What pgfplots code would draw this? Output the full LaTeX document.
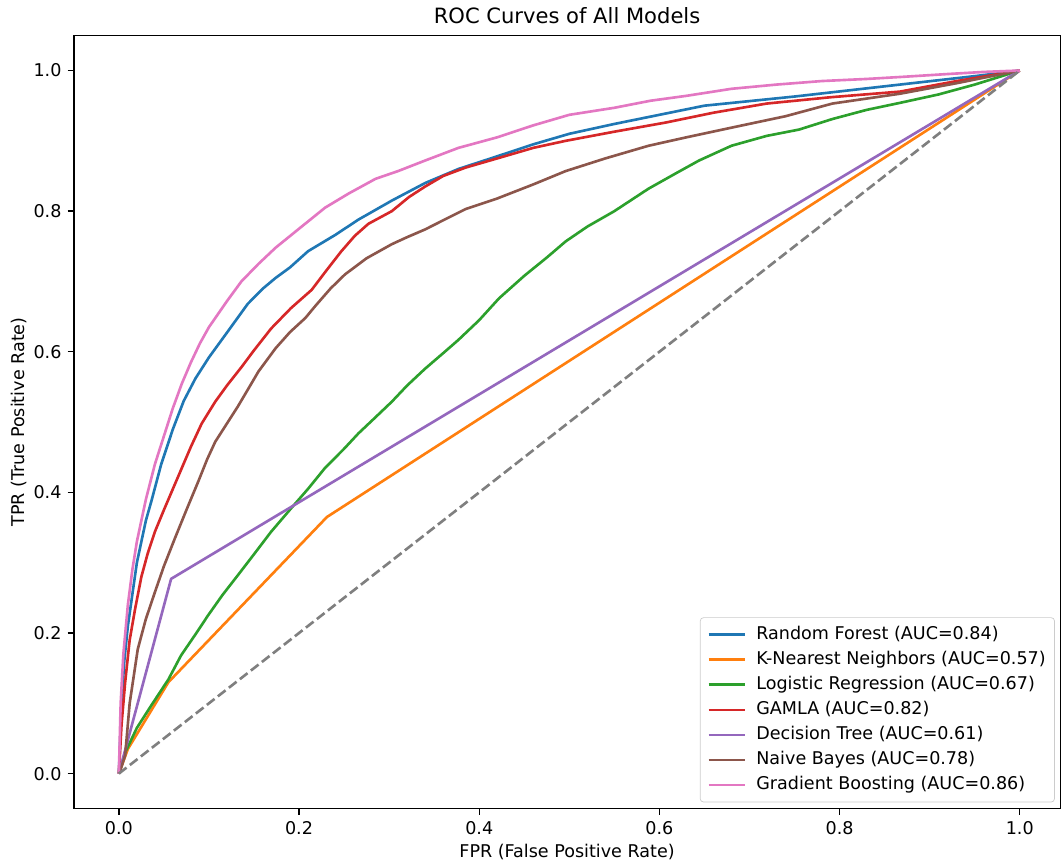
\documentclass[border={3pt 0.5pt 0pt 1pt}]{standalone}
\usepackage{fontspec}
\setmainfont{DejaVu Sans}
\usepackage{pgfplots}
\pgfplotsset{compat=1.18}
\definecolor{c0}{HTML}{1F77B4}
\definecolor{c1}{HTML}{FF7F0E}
\definecolor{c2}{HTML}{2CA02C}
\definecolor{c3}{HTML}{D62728}
\definecolor{c4}{HTML}{9467BD}
\definecolor{c5}{HTML}{8C564B}
\definecolor{c6}{HTML}{E377C2}
\definecolor{c7}{HTML}{7F7F7F}
\begin{document}
\begin{tikzpicture}
\begin{axis}[
  scale only axis,
  width=562pt, height=440.6pt,
  xmin=-0.05, xmax=1.045, ymin=-0.05, ymax=1.05,
  xtick={0,0.2,0.4,0.6,0.8,1.0},
  ytick={0,0.2,0.4,0.6,0.8,1.0},
  /pgf/number format/.cd, fixed, fixed zerofill, precision=1, assume math mode=true,
  /pgfplots/.cd,
  tick align=outside, tick pos=left,
  major tick length=3.5pt,
  every tick/.style={black, line width=0.8pt},
  axis line style={line width=0.8pt},
  tick label style={font=\fontsize{10}{12}\selectfont},
  label style={font=\fontsize{10}{12}\selectfont},
  title style={font=\fontsize{12}{14}\selectfont, yshift=-3pt},
  title={ROC Curves of All Models},
  xlabel={FPR (False Positive Rate)},
  ylabel={TPR (True Positive Rate)},
  xlabel style={yshift=1.5pt},
  ylabel style={yshift=-3pt},
  legend cell align=left,
  legend style={at={(axis cs:1.039,-0.041)}, anchor=south east,
    draw=black!20, rounded corners=2pt, fill=white, fill opacity=0.8, text opacity=1,
    font=\fontsize{10}{12}\selectfont, row sep=3pt, column sep=5pt, inner xsep=4pt, inner ysep=4pt,
    nodes={inner sep=1pt, text height=7.3pt, text depth=2pt}},
  legend image code/.code={\draw[#1, line width=1.5pt] (0pt,0pt) -- (20.5pt,0pt);},
  every axis plot/.append style={line width=1.5pt, line join=round},
]
% Random Forest
\addplot[c0] coordinates {(0,0) (0.003,0.10) (0.006,0.16) (0.01,0.21) (0.02,0.30) (0.03,0.36) (0.036,0.387) (0.047,0.44) (0.06,0.49) (0.072,0.53) (0.085,0.562) (0.10,0.592) (0.121,0.629) (0.143,0.668) (0.16,0.69) (0.174,0.705) (0.19,0.72) (0.21,0.743) (0.24,0.766) (0.266,0.788) (0.303,0.815) (0.34,0.84) (0.377,0.86) (0.42,0.878) (0.46,0.895) (0.50,0.91) (0.55,0.924) (0.60,0.937) (0.65,0.95) (0.75,0.963) (0.867,0.98) (0.95,0.992) (1,1)};
\addlegendentry{Random Forest (AUC=0.84)}
% KNN
\addplot[c1] coordinates {(0,0) (0.01,0.035) (0.055,0.13) (0.231,0.365) (1,1)};
\addlegendentry{K-Nearest Neighbors (AUC=0.57)}
% Logistic Regression
\addplot[c2] coordinates {(0,0) (0.007,0.03) (0.02,0.065) (0.036,0.097) (0.055,0.134) (0.069,0.168) (0.085,0.198) (0.099,0.225) (0.115,0.254) (0.132,0.282) (0.15,0.312) (0.169,0.344) (0.191,0.377) (0.21,0.405) (0.229,0.435) (0.25,0.462) (0.266,0.484) (0.285,0.507) (0.303,0.529) (0.32,0.552) (0.34,0.576) (0.36,0.598) (0.377,0.617) (0.40,0.645) (0.422,0.676) (0.45,0.708) (0.475,0.734) (0.496,0.757) (0.52,0.778) (0.55,0.80) (0.588,0.832) (0.62,0.855) (0.644,0.872) (0.68,0.893) (0.719,0.907) (0.755,0.916) (0.792,0.931) (0.83,0.944) (0.867,0.954) (0.91,0.966) (0.95,0.98) (1,1)};
\addlegendentry{Logistic Regression (AUC=0.67)}
% GAMLA
\addplot[c3] coordinates {(0,0) (0.003,0.07) (0.007,0.13) (0.012,0.19) (0.018,0.234) (0.025,0.28) (0.032,0.313) (0.04,0.344) (0.05,0.375) (0.06,0.405) (0.07,0.435) (0.08,0.465) (0.092,0.498) (0.107,0.529) (0.12,0.552) (0.136,0.578) (0.15,0.602) (0.169,0.633) (0.191,0.662) (0.214,0.688) (0.23,0.715) (0.247,0.743) (0.262,0.765) (0.277,0.782) (0.303,0.80) (0.322,0.82) (0.34,0.835) (0.36,0.85) (0.385,0.862) (0.42,0.875) (0.46,0.89) (0.496,0.90) (0.55,0.913) (0.607,0.926) (0.66,0.94) (0.719,0.953) (0.79,0.962) (0.867,0.97) (0.93,0.985) (1,1)};
\addlegendentry{GAMLA (AUC=0.82)}
% Decision Tree
\addplot[c4] coordinates {(0,0) (0.058,0.277) (1,1)};
\addlegendentry{Decision Tree (AUC=0.61)}
% Naive Bayes
\addplot[c5] coordinates {(0,0) (0.003,0.01) (0.007,0.026) (0.012,0.10) (0.021,0.177) (0.03,0.22) (0.04,0.258) (0.05,0.295) (0.062,0.334) (0.075,0.375) (0.088,0.415) (0.098,0.447) (0.107,0.472) (0.12,0.498) (0.132,0.522) (0.144,0.548) (0.155,0.572) (0.174,0.605) (0.19,0.628) (0.207,0.648) (0.218,0.665) (0.235,0.69) (0.251,0.71) (0.275,0.733) (0.303,0.753) (0.32,0.763) (0.34,0.774) (0.36,0.787) (0.385,0.803) (0.42,0.818) (0.46,0.838) (0.496,0.857) (0.54,0.875) (0.588,0.893) (0.63,0.905) (0.681,0.919) (0.74,0.935) (0.792,0.953) (0.867,0.967) (0.93,0.982) (1,1)};
\addlegendentry{Naive Bayes (AUC=0.78)}
% Gradient Boosting
\addplot[c6] coordinates {(0,0) (0.002,0.10) (0.005,0.17) (0.01,0.24) (0.015,0.29) (0.02,0.33) (0.03,0.39) (0.04,0.44) (0.05,0.48) (0.06,0.52) (0.07,0.555) (0.08,0.585) (0.09,0.612) (0.10,0.635) (0.12,0.672) (0.136,0.70) (0.155,0.725) (0.174,0.748) (0.20,0.775) (0.229,0.805) (0.255,0.825) (0.285,0.846) (0.31,0.857) (0.34,0.872) (0.377,0.89) (0.42,0.905) (0.46,0.922) (0.50,0.937) (0.55,0.947) (0.59,0.957) (0.63,0.964) (0.68,0.974) (0.73,0.98) (0.78,0.985) (0.83,0.988) (0.87,0.991) (0.92,0.995) (0.96,0.998) (1,1)};
\addlegendentry{Gradient Boosting (AUC=0.86)}
% chance line
\addplot[c7, dash pattern=on 5.55pt off 2.4pt, forget plot] coordinates {(0,0) (1,1)};
\end{axis}
\end{tikzpicture}
\end{document}
